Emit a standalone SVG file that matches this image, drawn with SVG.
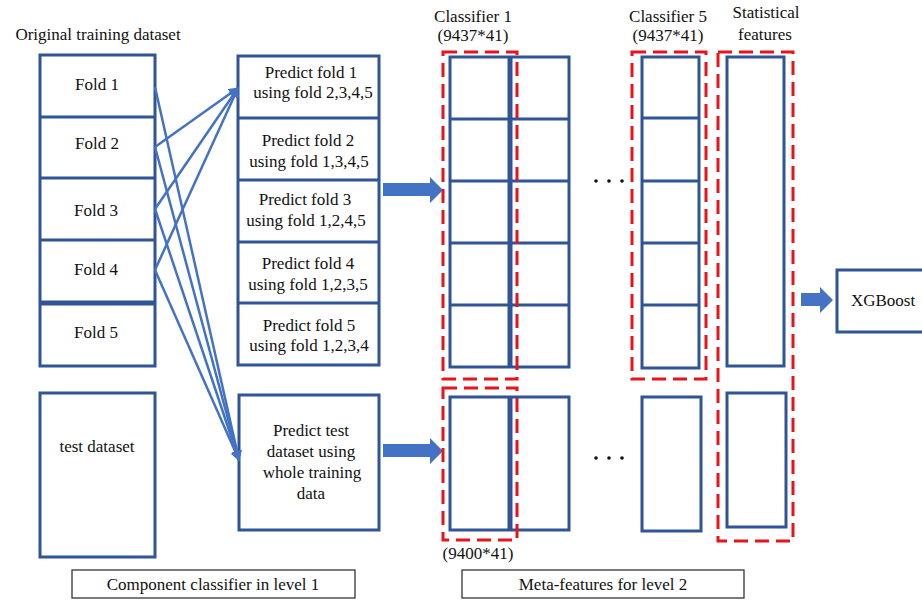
<svg xmlns="http://www.w3.org/2000/svg" width="922" height="600" viewBox="0 0 922 600" font-family="'Liberation Serif', 'DejaVu Serif', serif">
<defs>
<style>
text{font-family:'Liberation Serif','DejaVu Serif',serif;font-size:17px;fill:#111;text-anchor:middle}
.box{fill:#fff;stroke:#2F5597;stroke-width:3}
.div{stroke:#2F5597;stroke-width:3;fill:none}
.thick{stroke:#2F5597;stroke-width:5;fill:none}
.dash{fill:none;stroke:#E8141B;stroke-width:3;stroke-dasharray:14,7}
.conn{stroke:#4472C4;stroke-width:2.5;fill:none}
.block{fill:#4472C4}
.lbl{fill:#fff;stroke:#333;stroke-width:1.3}
</style>
<marker id="ah" viewBox="0 0 10 10" refX="9" refY="5" markerWidth="4" markerHeight="4" orient="auto" markerUnits="strokeWidth">
<path d="M0,0 L10,5 L0,10 z" fill="#4472C4"/>
</marker>
</defs>
<rect width="922" height="600" fill="#fff"/>

<text x="98" y="40">Original training dataset</text>

<g id="folds">
<rect class="box" x="40" y="55" width="115" height="311"/>
<line class="div" x1="40" y1="117" x2="155" y2="117"/>
<line class="div" x1="40" y1="178" x2="155" y2="178"/>
<line class="div" x1="40" y1="240" x2="155" y2="240"/>
<line class="thick" x1="40" y1="303" x2="155" y2="303"/>
<text x="97" y="90">Fold 1</text>
<text x="97" y="149">Fold 2</text>
<text x="96" y="216">Fold 3</text>
<text x="96" y="275">Fold 4</text>
<text x="96" y="338">Fold 5</text>
</g>

<g id="test-dataset">
<rect class="box" x="40" y="393" width="115" height="164"/>
<text x="97" y="452">test dataset</text>
</g>

<g id="predict-folds">
<rect class="box" x="238" y="56" width="141" height="309"/>
<line class="div" x1="238" y1="118" x2="379" y2="118"/>
<line class="div" x1="238" y1="180" x2="379" y2="180"/>
<line class="div" x1="238" y1="242" x2="379" y2="242"/>
<line class="div" x1="238" y1="303" x2="379" y2="303"/>
<text x="311" y="78">Predict fold 1</text>
<text x="313" y="98">using fold 2,3,4,5</text>
<text x="308" y="146">Predict fold 2</text>
<text x="309" y="167">using fold 1,3,4,5</text>
<text x="305" y="205">Predict fold 3</text>
<text x="306" y="226">using fold 1,2,4,5</text>
<text x="308" y="269">Predict fold 4</text>
<text x="308" y="290">using fold 1,2,3,5</text>
<text x="309" y="331">Predict fold 5</text>
<text x="309" y="351">using fold 1,2,3,4</text>
</g>

<g id="predict-test">
<rect class="box" x="239" y="395" width="140" height="135"/>
<text x="311" y="436">Predict test</text>
<text x="311" y="457">dataset using</text>
<text x="312" y="478">whole training</text>
<text x="311" y="499">data</text>
</g>

<g id="connectors">
<line class="conn" x1="155" y1="87" x2="239" y2="460" marker-end="url(#ah)"/>
<line class="conn" x1="155" y1="147" x2="239" y2="460" marker-end="url(#ah)"/>
<line class="conn" x1="155" y1="209" x2="239" y2="460" marker-end="url(#ah)"/>
<line class="conn" x1="155" y1="270" x2="239" y2="460" marker-end="url(#ah)"/>
<line class="conn" x1="155" y1="147" x2="238" y2="88" marker-end="url(#ah)"/>
<line class="conn" x1="155" y1="209" x2="238" y2="88" marker-end="url(#ah)"/>
<line class="conn" x1="155" y1="270" x2="238" y2="88" marker-end="url(#ah)"/>
<path class="block" d="M383,183 L430,183 L430,177 L443,190 L430,203 L430,196 L383,196 z"/>
<path class="block" d="M383,444 L430,444 L430,438 L443,451 L430,464 L430,457 L383,457 z"/>
<path class="block" d="M801,293 L820,293 L820,287 L833,300 L820,313 L820,306 L801,306 z"/>
</g>

<g id="classifier1-train">
<text x="473" y="22">Classifier 1</text>
<text x="473" y="41">(9437*41)</text>
<rect class="box" x="450" y="57" width="119" height="310"/>
<line class="div" x1="450" y1="119" x2="569" y2="119"/>
<line class="div" x1="450" y1="181" x2="569" y2="181"/>
<line class="div" x1="450" y1="243" x2="569" y2="243"/>
<line class="div" x1="450" y1="305" x2="569" y2="305"/>
<line class="thick" x1="510" y1="57" x2="510" y2="367"/>
<rect class="dash" x="443" y="52" width="74" height="327"/>
</g>

<g id="classifier1-test">
<rect class="box" x="450" y="397" width="119" height="133"/>
<line class="thick" x1="510" y1="397" x2="510" y2="530"/>
<rect class="dash" x="443" y="388" width="74" height="152"/>
<text x="478" y="559">(9400*41)</text>
</g>

<g id="dots">
<circle cx="596" cy="181" r="1.8" fill="#111"/>
<circle cx="609" cy="181" r="1.8" fill="#111"/>
<circle cx="622" cy="181" r="1.8" fill="#111"/>
<circle cx="596" cy="458" r="1.8" fill="#111"/>
<circle cx="609" cy="458" r="1.8" fill="#111"/>
<circle cx="622" cy="458" r="1.8" fill="#111"/>
</g>

<g id="classifier5-train">
<text x="668" y="22">Classifier 5</text>
<text x="668" y="41">(9437*41)</text>
<rect class="box" x="642" y="57" width="57" height="311"/>
<line class="div" x1="642" y1="118" x2="699" y2="118"/>
<line class="div" x1="642" y1="181" x2="699" y2="181"/>
<line class="div" x1="642" y1="243" x2="699" y2="243"/>
<line class="div" x1="642" y1="305" x2="699" y2="305"/>
<rect class="dash" x="632" y="52" width="74" height="327"/>
</g>

<g id="classifier5-test">
<rect class="box" x="642" y="397" width="59" height="134"/>
</g>

<g id="statistical-features">
<text x="766" y="18">Statistical</text>
<text x="765" y="40">features</text>
<rect class="box" x="727" y="57" width="57" height="309"/>
<rect class="box" x="727" y="393" width="59" height="134"/>
<rect class="dash" x="718" y="52" width="75" height="489"/>
</g>

<g id="xgboost">
<rect class="box" x="837" y="270" width="95" height="62"/>
<text x="883" y="306">XGBoost</text>
</g>

<g id="label-level1">
<rect class="lbl" x="72" y="570" width="283" height="28"/>
<text x="213" y="590">Component classifier in level 1</text>
</g>

<g id="label-level2">
<rect class="lbl" x="462" y="570" width="282" height="28"/>
<text x="603" y="590">Meta-features for level 2</text>
</g>
</svg>
